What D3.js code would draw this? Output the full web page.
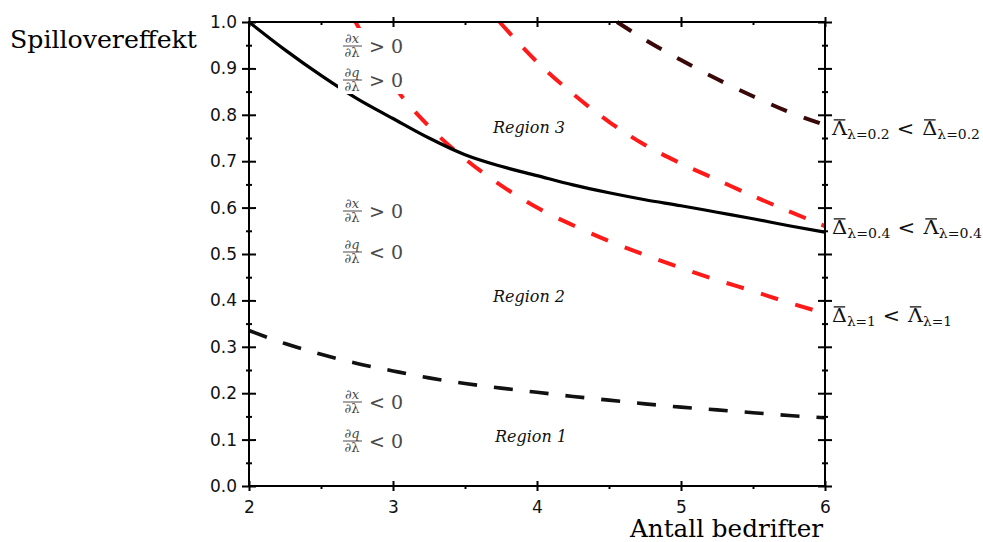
<!DOCTYPE html>
<html>
<head>
<meta charset="utf-8">
<script src="https://cdn.jsdelivr.net/npm/d3@7"></script>
<style>
  html, body { margin: 0; padding: 0; background: #fff; }
  svg { display: block; }
</style>
</head>
<body>
<svg id="chart" width="983" height="542"></svg>
<script>
// Number of firms (x) and spillover thresholds (y)
const firms = [2, 2.25, 2.5, 2.75, 3, 3.25, 3.5, 3.75, 4, 4.25, 4.5, 4.75, 5, 5.25, 5.5, 5.75, 6];
// upper boundary of region 2 (solid black)
const boundaryUpper = [1.0, 0.94, 0.885, 0.835, 0.792, 0.75, 0.714, 0.689, 0.669, 0.649, 0.632, 0.617, 0.604, 0.59, 0.576, 0.561, 0.547];
// lower boundary of region 2 (dashed black)
const boundaryLower = [0.335, 0.307, 0.284, 0.264, 0.248, 0.233, 0.221, 0.211, 0.202, 0.193, 0.185, 0.177, 0.17, 0.164, 0.158, 0.152, 0.147];

// lambda = 1 (red, lowest)
const firmsL1 = [2.74, 3, 3.25, 3.5, 3.75, 4, 4.25, 4.5, 4.75, 5, 5.25, 5.5, 5.75, 6];
const thresholdL1 = [1.0, 0.865, 0.775, 0.705, 0.648, 0.6, 0.562, 0.528, 0.498, 0.47, 0.444, 0.42, 0.395, 0.372];
// lambda = 0.4 (red, middle)
const firmsL04 = [3.74, 4, 4.25, 4.5, 4.75, 5, 5.25, 5.5, 5.75, 6];
const thresholdL04 = [1.0, 0.914, 0.845, 0.785, 0.735, 0.695, 0.66, 0.625, 0.592, 0.56];
// lambda = 0.2 (dark red, top)
const firmsL02 = [4.556, 4.75, 5, 5.25, 5.5, 5.75, 6];
const thresholdL02 = [1.0, 0.962, 0.918, 0.877, 0.84, 0.806, 0.778];

const xTicks = [2, 3, 4, 5, 6];
const xMinorTicks = [2.5, 3.5, 4.5, 5.5];
const yTicks = [0, 0.1, 0.2, 0.3, 0.4, 0.5, 0.6, 0.7, 0.8, 0.9, 1.0];
const yMinorTicks = [0.05, 0.15, 0.25, 0.35, 0.45, 0.55, 0.65, 0.75, 0.85, 0.95];

const yTitle = "Spillovereffekt";
const xTitle = "Antall bedrifter";
const regionNames = ["Region 3", "Region 2", "Region 1"];
// sign conditions per region: [numerator, relation]
const signConditions = [
  ["∂x", "> 0"], ["∂q", "> 0"],
  ["∂x", "> 0"], ["∂q", "< 0"],
  ["∂x", "< 0"], ["∂q", "< 0"]
];
// curve labels at the right edge: [symbol, subscript, symbol, subscript]
const curveLabels = [
  ["Λ", "λ=0.2", "Δ", "λ=0.2"],
  ["Δ", "λ=0.4", "Λ", "λ=0.4"],
  ["Δ", "λ=1", "Λ", "λ=1"]
];

const svg = d3.select("#chart");
const x = d3.scaleLinear().domain([2, 6]).range([249, 825]);
const y = d3.scaleLinear().domain([0, 1]).range([486, 22]);

svg.append("defs").append("clipPath").attr("id", "plot-clip")
  .append("rect").attr("x", 249).attr("y", 20).attr("width", 576).attr("height", 468);

// ---- curves ----
const line = d3.line().x(d => x(d[0])).y(d => y(d[1])).curve(d3.curveMonotoneX);
const zip = (xs, ys) => xs.map((v, i) => [v, ys[i]]);

const curves = svg.append("g").attr("clip-path", "url(#plot-clip)");
curves.append("path").datum(zip(firms, boundaryLower))
  .attr("d", line).attr("fill", "none").attr("stroke", "#111")
  .attr("stroke-width", 3.6).attr("stroke-dasharray", "19,17");
curves.append("path").datum(zip(firmsL1, thresholdL1))
  .attr("d", line).attr("fill", "none").attr("stroke", "#ff1a1a")
  .attr("stroke-width", 4).attr("stroke-dasharray", "18,18");
curves.append("path").datum(zip(firmsL04, thresholdL04))
  .attr("d", line).attr("fill", "none").attr("stroke", "#ff1a1a")
  .attr("stroke-width", 4).attr("stroke-dasharray", "18,17");
curves.append("path").datum(zip(firmsL02, thresholdL02))
  .attr("d", line).attr("fill", "none").attr("stroke", "#3a0808")
  .attr("stroke-width", 4).attr("stroke-dasharray", "17,18");
curves.append("path").datum(zip(firms, boundaryUpper))
  .attr("d", line).attr("fill", "none").attr("stroke", "#000")
  .attr("stroke-width", 3.2);

// ---- axes (box with crossing ticks) ----
function styleAxis(g, inner, outer, horizontal, sign) {
  g.select(".domain").remove();
  g.selectAll(".tick line").each(function () {
    const l = d3.select(this);
    if (horizontal) { l.attr("y1", -inner * sign).attr("y2", outer * sign); }
    else { l.attr("x1", -inner * sign).attr("x2", outer * sign); }
  }).attr("stroke", "#000").attr("stroke-width", 2);
}
const axisColor = "#000";
// left
const gl = svg.append("g").attr("transform", "translate(249,0)")
  .call(d3.axisLeft(y).tickValues(yTicks).tickSize(7).tickPadding(5).tickFormat(d3.format(".1f")));
styleAxis(gl, 7, 7, false, -1);
gl.selectAll("text").attr("font-family", "DejaVu Sans").attr("font-size", 17).attr("fill", "#111");
svg.append("g").attr("transform", "translate(249,0)")
  .call(d3.axisLeft(y).tickValues(yMinorTicks).tickSize(3).tickFormat(""))
  .call(g => styleAxis(g, 3, 3, false, -1));
// right
svg.append("g").attr("transform", "translate(825,0)")
  .call(d3.axisRight(y).tickValues(yTicks).tickSize(7).tickFormat(""))
  .call(g => styleAxis(g, 7, 7, false, 1));
svg.append("g").attr("transform", "translate(825,0)")
  .call(d3.axisRight(y).tickValues(yMinorTicks).tickSize(3).tickFormat(""))
  .call(g => styleAxis(g, 3, 3, false, 1));
// bottom
const gb = svg.append("g").attr("transform", "translate(0,486)")
  .call(d3.axisBottom(x).tickValues(xTicks).tickSize(5).tickPadding(0).tickFormat(d3.format("d")));
styleAxis(gb, 5, 5, true, 1);
gb.selectAll("text").attr("font-family", "DejaVu Sans").attr("font-size", 17)
  .attr("fill", "#111").attr("y", 27).attr("dy", 0);
svg.append("g").attr("transform", "translate(0,486)")
  .call(d3.axisBottom(x).tickValues(xMinorTicks).tickSize(3).tickFormat(""))
  .call(g => styleAxis(g, 1, 3, true, 1));
// top
svg.append("g").attr("transform", "translate(0,22)")
  .call(d3.axisTop(x).tickValues(xTicks).tickSize(5).tickFormat(""))
  .call(g => styleAxis(g, 5, 5, true, -1));
svg.append("g").attr("transform", "translate(0,22)")
  .call(d3.axisTop(x).tickValues(xMinorTicks).tickSize(3).tickFormat(""))
  .call(g => styleAxis(g, 3, 1, true, -1));

// frame lines
svg.append("rect").attr("x", 249).attr("y", 22).attr("width", 576).attr("height", 464)
  .attr("fill", "none").attr("stroke", axisColor).attr("stroke-width", 2);

// ---- sign condition labels ----
const condLayout = [46, 80, 211, 252, 402, 441]; // fraction bar positions
const condGroup = svg.append("g").attr("fill", "#4a4a4a");
condGroup.append("rect").attr("x", 338).attr("y", 28).attr("width", 70).attr("height", 66).attr("fill", "#fff");
signConditions.forEach((c, i) => {
  const by = condLayout[i];
  condGroup.append("text").attr("x", 352).attr("y", by - 3).attr("text-anchor", "middle")
    .attr("font-family", "DejaVu Serif").attr("font-style", "italic").attr("font-size", 13).text(c[0]);
  condGroup.append("line").attr("x1", 343).attr("x2", 362).attr("y1", by).attr("y2", by)
    .attr("stroke", "#4a4a4a").attr("stroke-width", 1);
  condGroup.append("text").attr("x", 352).attr("y", by + 11).attr("text-anchor", "middle")
    .attr("font-family", "DejaVu Serif").attr("font-size", 13).text("∂λ");
  condGroup.append("text").attr("x", 369).attr("y", by + 7)
    .attr("font-family", "DejaVu Serif").attr("font-size", 19).text(c[1]);
});

// ---- region labels ----
const regionLayout = [[529, 133], [529, 302], [531, 442]];
regionNames.forEach((r, i) => {
  svg.append("text").attr("x", regionLayout[i][0]).attr("y", regionLayout[i][1])
    .attr("text-anchor", "middle").attr("font-family", "DejaVu Serif").attr("font-style", "italic")
    .attr("font-size", 16).attr("fill", "#111").text(r);
});

// ---- axis titles ----
svg.append("text").attr("x", 10).attr("y", 48).attr("font-family", "DejaVu Serif")
  .attr("font-size", 25).attr("fill", "#000").attr("textLength", 187)
  .attr("lengthAdjust", "spacingAndGlyphs").text(yTitle);
svg.append("text").attr("x", 630).attr("y", 537).attr("font-family", "DejaVu Serif")
  .attr("font-size", 24).attr("fill", "#000").attr("textLength", 193)
  .attr("lengthAdjust", "spacingAndGlyphs").text(xTitle);

// ---- curve labels with barred symbols ----
const labelLayout = [[135, 148], [234, 150], [322, 120]]; // baseline, width
curveLabels.forEach((parts, i) => {
  const g = svg.append("g");
  const inner = g.append("g").attr("fill", "#111").attr("font-family", "DejaVu Serif");
  let cx = 0;
  const addPiece = (txt, size, dy, bar, padAfter) => {
    const t = inner.append("text").attr("x", cx).attr("y", dy).attr("font-size", size).text(txt);
    const w = t.node().getComputedTextLength();
    if (bar) {
      inner.append("line").attr("x1", cx + 1.5).attr("x2", cx + w - 1.5)
        .attr("y1", -size * 0.84).attr("y2", -size * 0.84)
        .attr("stroke", "#111").attr("stroke-width", 1.3);
    }
    cx += w + padAfter;
  };
  addPiece(parts[0], 18, 0, true, 0);
  addPiece(parts[1], 12, 4, false, 6);
  addPiece("<", 18, 0, false, 7);
  addPiece(parts[2], 18, 0, true, 0);
  addPiece(parts[3], 12, 4, false, 0);
  const sx = labelLayout[i][1] / cx;
  g.attr("transform", `translate(832,${labelLayout[i][0]}) scale(${sx},1)`);
});
</script>
</body>
</html>
